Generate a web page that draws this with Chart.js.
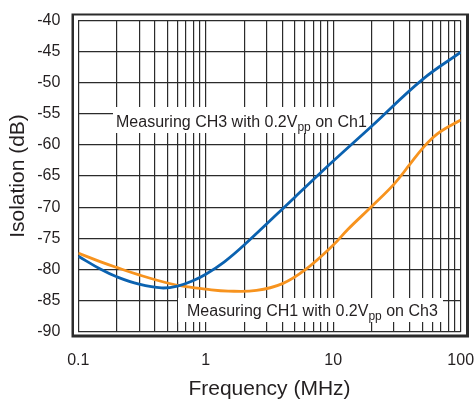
<!DOCTYPE html>
<html>
<head>
<meta charset="utf-8">
<script src="https://cdn.jsdelivr.net/npm/chart.js@4.4.1/dist/chart.umd.min.js"></script>
<style>
  html, body { margin: 0; padding: 0; background: #fff; }
  #wrap { width: 475px; height: 400px; }
</style>
</head>
<body>
<div id="wrap"><canvas id="isoChart" width="475" height="400"></canvas></div>
<script>
// CH3 measured with 0.2Vpp on Ch1 (blue)
const freqCh3 = [0.1, 0.15, 0.2, 0.3, 0.45, 0.6, 0.8, 1, 1.4, 2, 5, 10, 20, 50, 100];
const isoCh3 = [-77.9, -80.0, -81.2, -82.4, -83.0, -82.7, -81.8, -80.8, -78.8, -76.1, -68.4, -62.6, -57.0, -49.5, -45.1];

// CH1 measured with 0.2Vpp on Ch3 (orange)
const freqCh1 = [0.1, 0.15, 0.2, 0.3, 0.5, 0.7, 1, 1.5, 2.5, 4, 6, 10, 13, 20, 30, 40, 50, 60, 70, 100];
const isoCh1 = [-77.4, -78.8, -79.7, -80.9, -82.2, -82.8, -83.2, -83.5, -83.4, -82.3, -80.1, -76.1, -73.6, -69.9, -66.3, -63.1, -60.6, -58.9, -57.8, -56.0];

const decades = [0.1, 1, 10, 100];
const minorSteps = [1, 2, 3, 4, 5, 6, 7, 8, 9];
const yMin = -90, yMax = -40, yStep = 5;

const xTitle = 'Frequency (MHz)';
const yTitle = 'Isolation (dB)';
const label1Parts = ['Measuring CH3 with 0.2V', 'pp', ' on Ch1'];
const label2Parts = ['Measuring CH1 with 0.2V', 'pp', ' on Ch3'];

const FONT = '"Liberation Sans", Arial, Helvetica, sans-serif';

function toPoints(xs, ys) {
  return xs.map((x, i) => ({ x: x, y: ys[i] }));
}

// outer frame around the plot
const framePlugin = {
  id: 'frame',
  beforeDraw(chart) {
    const ctx = chart.ctx;
    ctx.save();
    ctx.fillStyle = '#fff';
    ctx.fillRect(0, 0, chart.width, chart.height);
    ctx.fillStyle = '#2b2b2b';
    ctx.fillRect(71.5, 13.5, 397.5, 324);
    ctx.fillStyle = '#fff';
    ctx.fillRect(74, 15.5, 392, 319);
    ctx.restore();
  }
};

// white boxed labels on the grid
const labelLayout = [
  { parts: label1Parts, box: [113, 107, 257, 26], tx: 116, ty: 127 },
  { parts: label2Parts, box: [178, 298, 265, 24], tx: 187, ty: 315.5 }
];

const labelPlugin = {
  id: 'curveLabels',
  beforeDatasetsDraw(chart) {
    const ctx = chart.ctx;
    labelLayout.forEach(l => {
      ctx.save();
      ctx.fillStyle = '#fff';
      ctx.fillRect(l.box[0], l.box[1], l.box[2], l.box[3]);
      ctx.fillStyle = '#231f20';
      ctx.textBaseline = 'alphabetic';
      let x = l.tx;
      ctx.font = '16px ' + FONT;
      ctx.fillText(l.parts[0], x, l.ty);
      x += ctx.measureText(l.parts[0]).width;
      ctx.font = '12px ' + FONT;
      ctx.fillText(l.parts[1], x, l.ty + 4);
      x += ctx.measureText(l.parts[1]).width;
      ctx.font = '16px ' + FONT;
      ctx.fillText(l.parts[2], x, l.ty);
      ctx.restore();
    });
  }
};

const ctx = document.getElementById('isoChart').getContext('2d');

new Chart(ctx, {
  type: 'line',
  data: {
    datasets: [
      {
        label: 'CH3',
        data: toPoints(freqCh3, isoCh3),
        borderColor: '#0b62b0',
        borderWidth: 2.8,
        pointRadius: 0,
        fill: false,
        tension: 0.4
      },
      {
        label: 'CH1',
        data: toPoints(freqCh1, isoCh1),
        borderColor: '#f7931e',
        borderWidth: 2.8,
        pointRadius: 0,
        fill: false,
        tension: 0.4
      }
    ]
  },
  options: {
    responsive: false,
    devicePixelRatio: 1,
    animation: false,
    layout: { padding: { left: 0, right: 14.3, top: 20.5, bottom: 0 } },
    plugins: {
      legend: { display: false },
      tooltip: { enabled: false }
    },
    scales: {
      x: {
        type: 'logarithmic',
        min: 0.1,
        max: 100,
        afterBuildTicks: (scale) => {
          const ticks = [];
          decades.slice(0, -1).forEach(d => {
            minorSteps.forEach(m => ticks.push({ value: +(d * m).toPrecision(3) }));
          });
          ticks.push({ value: decades[decades.length - 1] });
          scale.ticks = ticks;
        },
        afterFit: (scale) => {
          scale.height = 68.5;
          scale.paddingLeft = 0;
          scale.paddingRight = 0;
        },
        grid: { color: '#2b2b2b', lineWidth: 1.2, drawTicks: false },
        border: { display: false },
        ticks: {
          autoSkip: false,
          maxRotation: 0,
          padding: 19,
          color: '#231f20',
          font: { family: FONT, size: 16 },
          callback: (value) => decades.includes(value) ? String(value) : ''
        },
        title: {
          display: true,
          text: xTitle,
          color: '#231f20',
          font: { family: FONT, size: 21, lineHeight: 1 },
          padding: { top: 0, bottom: 0 }
        }
      },
      y: {
        min: yMin,
        max: yMax,
        afterFit: (scale) => {
          scale.width = 78.3;
          scale.paddingTop = 0;
          scale.paddingBottom = 0;
        },
        grid: { color: '#2b2b2b', lineWidth: 1.2, drawTicks: false },
        border: { display: false },
        ticks: {
          stepSize: yStep,
          padding: 18,
          color: '#231f20',
          font: { family: FONT, size: 16 }
        },
        title: {
          display: true,
          text: yTitle,
          color: '#231f20',
          font: { family: FONT, size: 21, lineHeight: 1 },
          padding: { top: 8, bottom: 0 }
        }
      }
    }
  },
  plugins: [framePlugin, labelPlugin]
});
</script>
</body>
</html>
